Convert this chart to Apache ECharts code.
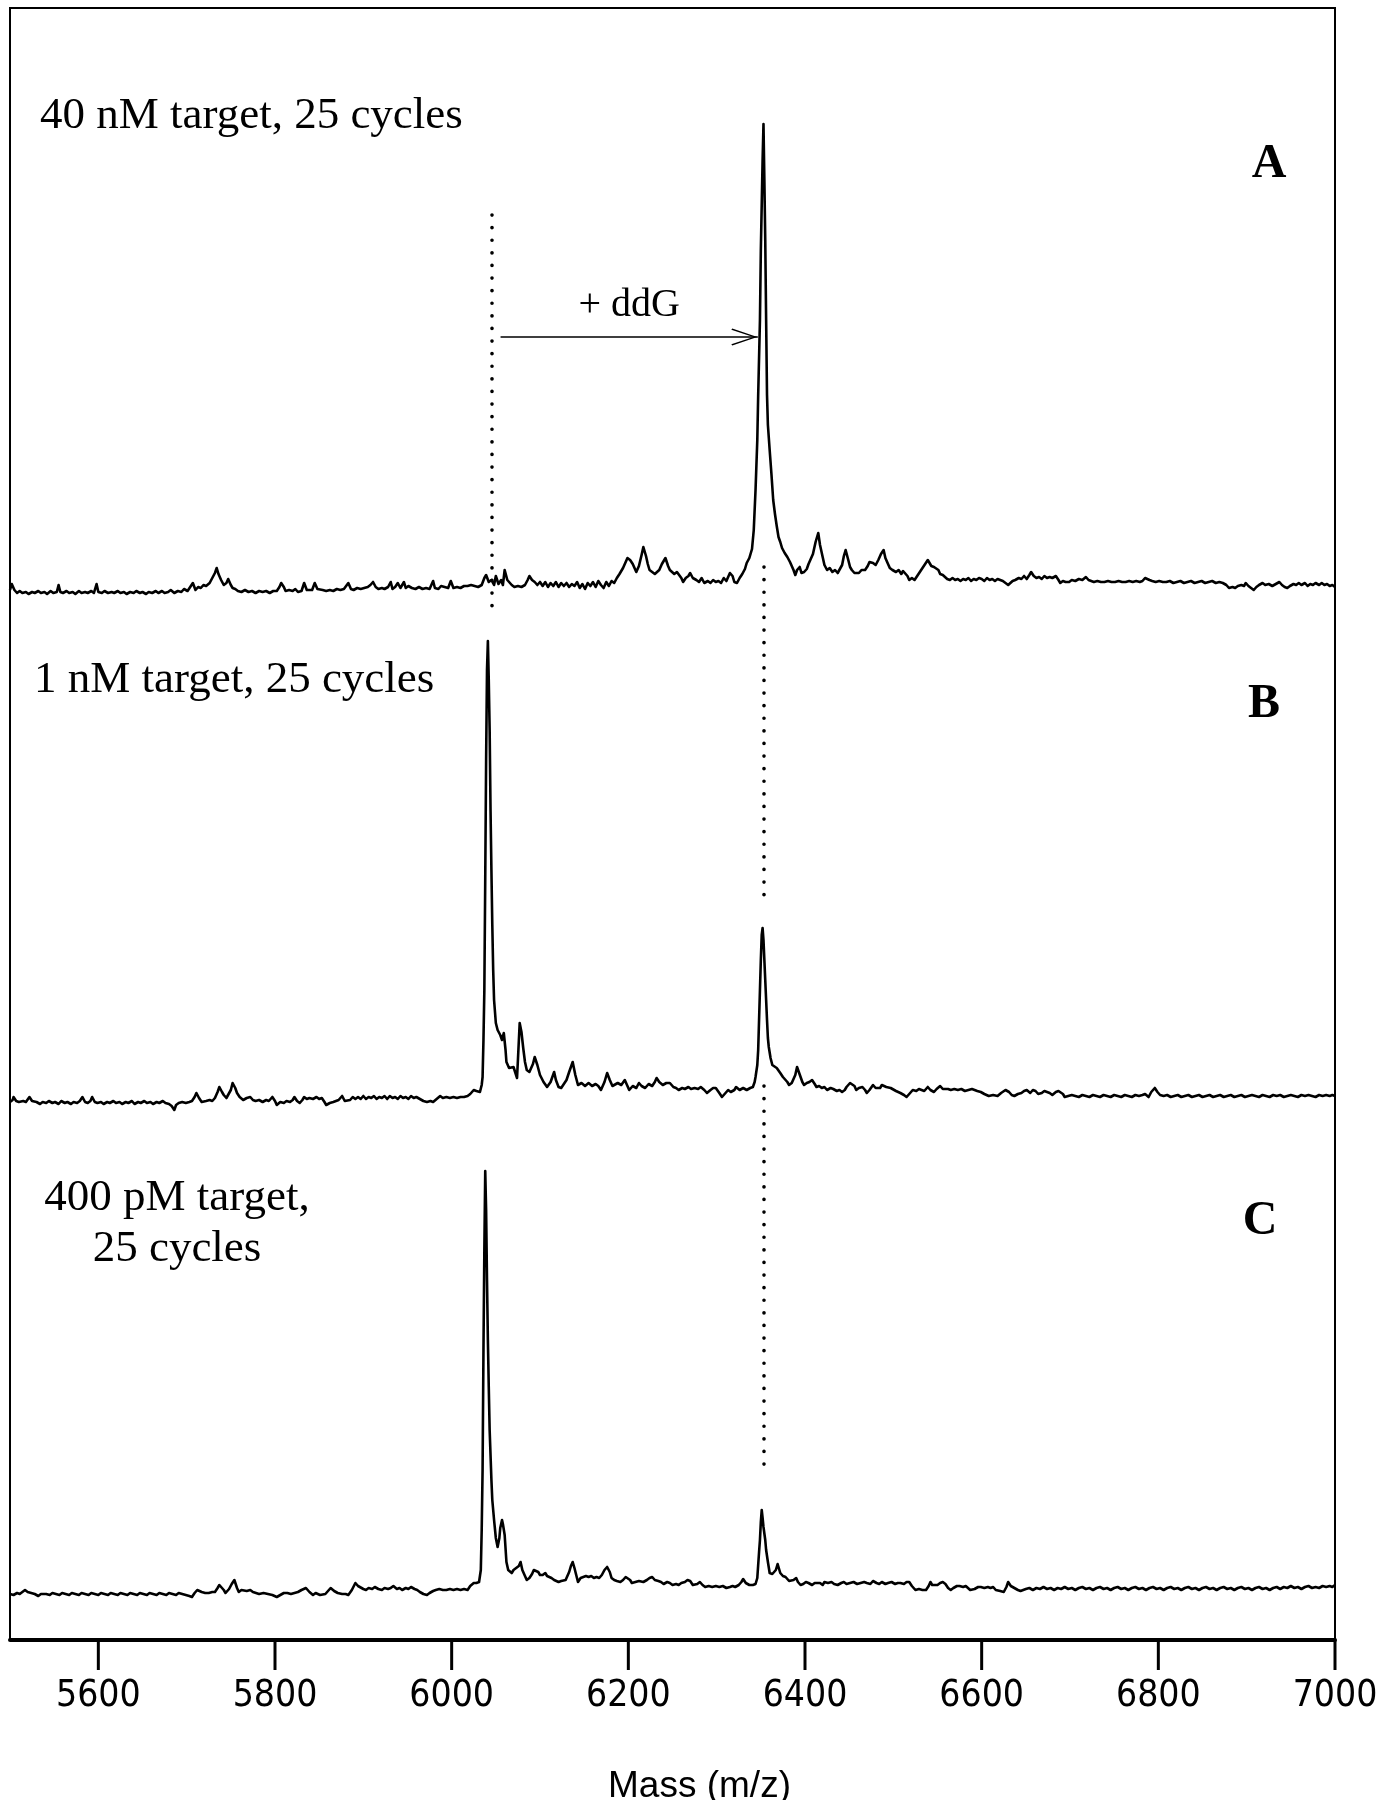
<!DOCTYPE html>
<html>
<head>
<meta charset="utf-8">
<script src="https://cdn.jsdelivr.net/npm/echarts@6/dist/echarts.min.js"></script>
<style>html,body{margin:0;padding:0;background:#fff}#c{width:1393px;height:1800px}</style>
</head>
<body>
<div id="c"></div>
<script>
// ---------- data (mass m/z, intensity a.u.) ----------
const xMin = 5500, xMax = 7000;
const xTickValues = [5600, 5800, 6000, 6200, 6400, 6600, 6800, 7000];
const axisName = 'Mass (m/z)';
const panelTitles = ['40 nM target, 25 cycles', '1 nM target, 25 cycles', '400 pM target,\n25 cycles'];
const panelLetters = ['A', 'B', 'C'];
const arrowLabel = '+ ddG';
const unextendedMass = 6045;   // dotted line (primer)
const extendedMass = 6353;     // dotted line (+ddG product)

const spectrumA = [[5500,10],[5502,16],[5505,10],[5508,7],[5511,9],[5514,7],[5518,8],[5521,6],[5525,8],[5528,7],[5532,9],[5535,7],[5539,8],[5542,6],[5546,9],[5549,7],[5553,8],[5555,15],[5557,8],[5560,7],[5564,9],[5567,7],[5571,8],[5574,6],[5578,9],[5581,7],[5585,8],[5588,7],[5592,9],[5595,7],[5598,16],[5600,8],[5604,7],[5607,9],[5611,7],[5615,8],[5618,7],[5622,9],[5625,7],[5629,8],[5632,6],[5636,8],[5640,7],[5643,9],[5647,7],[5650,8],[5654,6],[5657,8],[5661,7],[5665,9],[5668,7],[5672,9],[5675,7],[5679,8],[5682,10],[5686,7],[5690,9],[5694,8],[5697,11],[5701,9],[5704,13],[5707,17],[5710,10],[5713,13],[5716,12],[5719,15],[5722,14],[5726,17],[5729,22],[5732,27],[5734,32],[5736,26],[5739,20],[5742,15],[5745,17],[5747,21],[5750,15],[5752,12],[5755,11],[5758,9],[5762,8],[5766,10],[5770,8],[5774,9],[5778,7],[5782,9],[5786,8],[5790,9],[5794,7],[5798,9],[5802,9],[5805,13],[5807,17],[5810,13],[5812,9],[5816,10],[5820,9],[5823,11],[5826,8],[5830,9],[5833,17],[5836,10],[5838,9],[5842,10],[5845,17],[5848,11],[5850,9],[5854,10],[5858,9],[5862,10],[5866,9],[5870,11],[5874,10],[5878,11],[5880,9],[5883,17],[5886,11],[5889,10],[5893,12],[5897,11],[5901,12],[5905,13],[5908,15],[5911,18],[5914,13],[5917,11],[5921,12],[5924,11],[5928,13],[5931,18],[5933,11],[5936,13],[5939,17],[5942,12],[5946,18],[5948,12],[5951,14],[5955,12],[5959,11],[5963,13],[5967,11],[5971,12],[5975,11],[5979,19],[5981,12],[5985,11],[5988,14],[5992,13],[5996,12],[5999,19],[6002,12],[6006,13],[6010,12],[6014,14],[6018,14],[6022,15],[6026,14],[6030,13],[6034,15],[6037,22],[6039,25],[6042,18],[6045,20],[6048,15],[6050,24],[6053,16],[6056,20],[6058,15],[6060,30],[6063,20],[6065,18],[6068,15],[6071,13],[6075,14],[6079,13],[6083,15],[6086,20],[6088,24],[6091,20],[6094,18],[6097,15],[6100,18],[6103,14],[6106,18],[6109,13],[6112,17],[6115,14],[6118,18],[6121,13],[6124,17],[6127,14],[6130,17],[6133,13],[6136,16],[6139,14],[6142,18],[6145,12],[6148,16],[6151,11],[6154,17],[6157,14],[6160,18],[6163,13],[6166,19],[6169,15],[6172,12],[6175,18],[6178,14],[6181,19],[6184,17],[6187,22],[6190,26],[6194,32],[6197,38],[6199,42],[6202,40],[6205,36],[6207,38],[6209,28],[6212,34],[6215,45],[6217,53],[6220,44],[6222,36],[6224,30],[6227,28],[6230,26],[6232,25],[6235,30],[6238,36],[6242,42],[6245,34],[6247,30],[6249,28],[6252,26],[6255,28],[6257,30],[6260,22],[6262,18],[6265,22],[6268,24],[6270,27],[6273,22],[6277,20],[6280,18],[6283,22],[6286,17],[6290,19],[6293,17],[6296,20],[6299,18],[6302,19],[6305,17],[6308,22],[6311,19],[6313,20],[6315,27],[6318,24],[6320,18],[6323,17],[6326,22],[6329,26],[6332,31],[6334,37],[6337,42],[6340,51],[6342,70],[6344,110],[6346,160],[6347,205],[6349,280],[6350,350],[6352,440],[6353,476],[6354,420],[6355,360],[6356,280],[6357,205],[6358,175],[6360,150],[6362,126],[6364,100],[6366,86],[6368,74],[6370,63],[6372,58],[6374,52],[6377,47],[6380,43],[6383,38],[6385,34],[6387,30],[6389,25],[6391,30],[6394,33],[6396,27],[6399,28],[6402,31],[6404,36],[6406,40],[6409,46],[6412,58],[6415,67],[6417,55],[6420,43],[6422,35],[6425,30],[6428,32],[6431,28],[6434,30],[6437,27],[6439,27],[6442,35],[6444,44],[6446,50],[6449,40],[6451,33],[6453,30],[6456,27],[6458,29],[6461,27],[6464,30],[6466,32],[6468,30],[6471,34],[6473,38],[6475,40],[6477,37],[6480,35],[6483,40],[6486,46],[6489,50],[6491,42],[6494,36],[6496,32],[6499,30],[6501,28],[6503,28],[6506,30],[6509,26],[6511,29],[6513,28],[6516,24],[6518,20],[6521,22],[6524,20],[6527,24],[6530,28],[6533,32],[6536,36],[6539,40],[6541,37],[6543,34],[6546,33],[6548,31],[6551,30],[6553,26],[6556,25],[6558,23],[6561,21],[6564,20],[6567,22],[6570,20],[6573,21],[6576,19],[6579,21],[6582,20],[6585,22],[6588,19],[6591,21],[6594,20],[6597,22],[6600,21],[6603,19],[6606,22],[6609,20],[6612,21],[6615,19],[6618,21],[6621,20],[6624,19],[6627,17],[6630,15],[6632,15],[6635,19],[6638,20],[6642,22],[6645,21],[6648,24],[6651,21],[6654,25],[6656,28],[6659,24],[6662,22],[6665,23],[6668,21],[6671,24],[6674,22],[6677,23],[6680,22],[6684,24],[6687,20],[6689,17],[6692,19],[6695,18],[6699,18],[6702,20],[6706,19],[6710,21],[6714,20],[6718,23],[6721,20],[6723,18],[6727,18],[6731,19],[6735,18],[6739,18],[6743,19],[6747,18],[6751,18],[6755,19],[6759,18],[6763,18],[6767,19],[6771,18],[6775,19],[6779,18],[6782,19],[6785,22],[6787,24],[6790,20],[6793,19],[6797,18],[6801,19],[6805,18],[6809,18],[6813,19],[6817,17],[6821,18],[6825,19],[6829,17],[6833,18],[6837,19],[6841,17],[6845,18],[6849,19],[6853,17],[6857,18],[6861,19],[6865,17],[6869,18],[6873,17],[6877,15],[6880,12],[6884,13],[6887,12],[6890,14],[6894,15],[6897,14],[6899,17],[6902,14],[6905,12],[6908,10],[6911,13],[6914,15],[6918,17],[6921,15],[6925,16],[6929,14],[6933,16],[6937,18],[6940,15],[6943,13],[6946,12],[6949,14],[6953,16],[6956,15],[6959,17],[6962,15],[6966,17],[6969,14],[6972,16],[6975,15],[6978,17],[6982,15],[6985,17],[6988,15],[6991,16],[6994,14],[6997,15],[7000,13]];

const spectrumB = [[5500,8],[5503,10],[5504,13],[5507,9],[5510,8],[5512,7],[5515,9],[5518,8],[5520,10],[5522,13],[5525,9],[5527,7],[5530,8],[5534,6],[5537,8],[5541,7],[5544,9],[5548,7],[5551,8],[5555,6],[5558,9],[5562,7],[5565,8],[5569,6],[5572,8],[5576,7],[5579,9],[5582,13],[5585,8],[5588,7],[5591,9],[5593,13],[5596,8],[5599,7],[5603,8],[5606,6],[5610,8],[5613,7],[5617,9],[5620,7],[5624,8],[5627,6],[5631,8],[5634,7],[5638,9],[5641,6],[5645,8],[5648,7],[5652,9],[5655,7],[5659,8],[5662,6],[5666,8],[5669,7],[5673,9],[5676,7],[5680,6],[5683,4],[5686,0],[5688,5],[5691,7],[5695,8],[5699,7],[5703,8],[5706,9],[5709,13],[5711,17],[5714,12],[5717,8],[5719,7],[5722,9],[5726,10],[5729,9],[5732,12],[5735,18],[5737,23],[5740,18],[5742,15],[5745,12],[5747,13],[5750,20],[5752,27],[5755,22],[5757,17],[5760,13],[5764,10],[5768,12],[5772,13],[5775,10],[5778,9],[5782,10],[5786,8],[5790,10],[5793,9],[5797,13],[5800,9],[5802,5],[5806,8],[5810,7],[5813,9],[5817,8],[5820,10],[5822,13],[5825,9],[5828,7],[5831,10],[5833,13],[5836,11],[5839,12],[5843,11],[5847,13],[5850,11],[5853,12],[5856,8],[5858,5],[5862,7],[5866,8],[5868,7],[5872,10],[5876,14],[5879,9],[5881,7],[5885,10],[5888,13],[5891,11],[5894,13],[5897,11],[5900,14],[5903,11],[5906,13],[5909,12],[5912,14],[5915,11],[5918,13],[5921,12],[5924,14],[5927,11],[5930,14],[5933,12],[5936,13],[5939,11],[5942,14],[5945,12],[5948,13],[5951,11],[5954,14],[5957,12],[5960,13],[5964,11],[5968,9],[5972,8],[5976,9],[5979,8],[5983,11],[5987,14],[5990,12],[5994,13],[5998,12],[6002,13],[6006,12],[6010,13],[6014,13],[6018,14],[6021,16],[6025,20],[6028,19],[6032,18],[6034,25],[6035,33],[6036,70],[6037,120],[6038,230],[6039,350],[6040,440],[6041,469],[6042,430],[6043,380],[6044,300],[6045,240],[6046,185],[6047,140],[6048,110],[6050,87],[6052,80],[6055,75],[6057,70],[6059,77],[6061,60],[6062,48],[6065,42],[6067,40],[6070,43],[6072,42],[6074,32],[6075,50],[6077,87],[6079,78],[6081,62],[6083,48],[6085,40],[6088,38],[6090,40],[6092,46],[6094,53],[6097,45],[6100,35],[6104,28],[6108,23],[6112,28],[6116,38],[6118,30],[6121,23],[6124,22],[6126,22],[6130,30],[6133,38],[6135,43],[6137,48],[6140,35],[6143,25],[6147,27],[6151,24],[6155,27],[6159,24],[6163,26],[6166,24],[6169,20],[6173,28],[6176,37],[6179,30],[6182,24],[6184,23],[6188,27],[6192,25],[6196,30],[6198,26],[6201,20],[6205,24],[6209,22],[6212,27],[6215,24],[6219,22],[6223,26],[6227,24],[6230,28],[6232,32],[6235,28],[6239,25],[6243,27],[6247,27],[6251,23],[6254,22],[6257,20],[6261,22],[6264,21],[6268,23],[6271,21],[6275,22],[6279,21],[6282,23],[6286,20],[6289,17],[6293,20],[6296,22],[6299,22],[6303,17],[6306,13],[6309,16],[6313,20],[6316,18],[6318,16],[6320,20],[6322,23],[6326,20],[6330,22],[6334,20],[6338,22],[6341,23],[6343,28],[6344,33],[6346,45],[6347,60],[6348,90],[6349,120],[6350,150],[6351,175],[6352,182],[6353,170],[6354,150],[6355,130],[6356,110],[6357,90],[6358,72],[6359,63],[6361,52],[6363,45],[6365,43],[6368,42],[6370,40],[6372,37],[6375,33],[6377,33],[6380,28],[6382,25],[6385,27],[6387,27],[6389,35],[6391,43],[6393,38],[6395,33],[6397,28],[6399,25],[6402,27],[6405,28],[6408,30],[6411,26],[6413,23],[6416,24],[6419,22],[6422,23],[6425,20],[6429,22],[6432,21],[6436,19],[6439,20],[6442,18],[6445,20],[6447,23],[6449,25],[6451,27],[6453,29],[6456,24],[6458,20],[6461,22],[6465,23],[6468,20],[6470,17],[6473,20],[6477,25],[6480,22],[6482,20],[6485,22],[6487,25],[6489,25],[6492,23],[6494,25],[6497,22],[6499,20],[6503,19],[6508,17],[6512,15],[6515,13],[6518,16],[6522,20],[6526,19],[6529,21],[6532,20],[6535,19],[6539,23],[6542,20],[6546,18],[6549,21],[6553,24],[6556,21],[6558,20],[6562,21],[6565,20],[6569,21],[6573,20],[6577,21],[6581,19],[6585,20],[6589,21],[6592,20],[6595,19],[6599,18],[6603,16],[6608,14],[6613,15],[6618,14],[6622,17],[6627,20],[6631,18],[6634,15],[6637,14],[6641,16],[6645,17],[6648,19],[6651,20],[6655,17],[6658,20],[6661,19],[6664,16],[6668,17],[6671,19],[6673,20],[6677,17],[6680,15],[6684,18],[6687,19],[6689,21],[6692,16],[6694,13],[6698,14],[6702,15],[6706,14],[6710,13],[6714,15],[6718,14],[6722,13],[6726,15],[6730,14],[6734,13],[6738,15],[6742,14],[6746,13],[6750,15],[6754,14],[6758,13],[6762,15],[6766,14],[6770,13],[6774,15],[6778,14],[6782,15],[6785,16],[6789,13],[6792,18],[6796,22],[6799,18],[6802,15],[6806,14],[6810,15],[6814,13],[6818,14],[6822,15],[6826,13],[6830,14],[6834,15],[6838,13],[6842,14],[6846,15],[6850,13],[6854,14],[6858,15],[6862,13],[6866,14],[6870,15],[6874,13],[6878,14],[6882,15],[6886,13],[6890,14],[6894,15],[6898,13],[6902,14],[6906,15],[6910,14],[6914,13],[6918,15],[6922,14],[6926,13],[6930,15],[6934,14],[6938,15],[6942,13],[6946,14],[6950,15],[6954,14],[6958,13],[6962,15],[6966,14],[6970,15],[6974,14],[6978,13],[6982,15],[6986,14],[6990,15],[6994,14],[6997,15],[7000,14]];

const spectrumC = [[5500,6],[5504,5],[5508,7],[5511,6],[5514,8],[5517,10],[5520,8],[5524,7],[5528,6],[5532,4],[5535,6],[5537,7],[5541,6],[5545,5],[5548,7],[5552,6],[5556,5],[5559,7],[5563,6],[5567,5],[5570,7],[5574,6],[5578,5],[5581,7],[5585,6],[5589,5],[5592,7],[5596,6],[5600,5],[5603,7],[5607,6],[5611,5],[5614,7],[5618,6],[5622,5],[5625,7],[5629,6],[5633,5],[5636,7],[5640,6],[5644,5],[5647,7],[5651,6],[5655,5],[5658,7],[5662,6],[5666,5],[5669,7],[5673,6],[5677,5],[5680,7],[5684,6],[5688,5],[5691,7],[5695,6],[5699,5],[5703,4],[5706,3],[5709,7],[5712,10],[5714,11],[5717,8],[5721,7],[5725,7],[5729,8],[5732,8],[5735,12],[5737,15],[5739,16],[5742,10],[5744,7],[5748,11],[5751,16],[5754,20],[5757,12],[5759,8],[5762,10],[5764,10],[5768,9],[5772,10],[5775,8],[5777,7],[5782,6],[5787,7],[5792,6],[5797,5],[5802,3],[5806,5],[5810,7],[5814,7],[5818,6],[5822,7],[5826,8],[5830,10],[5835,12],[5839,8],[5843,5],[5846,7],[5848,8],[5851,5],[5853,3],[5857,6],[5860,9],[5863,12],[5867,9],[5871,7],[5876,6],[5880,6],[5883,5],[5887,10],[5891,17],[5894,14],[5896,12],[5900,11],[5903,10],[5906,12],[5910,11],[5913,13],[5917,11],[5921,10],[5924,12],[5928,11],[5931,12],[5934,14],[5938,11],[5941,12],[5944,10],[5948,12],[5951,11],[5954,13],[5958,11],[5961,10],[5964,8],[5968,6],[5972,5],[5975,7],[5979,9],[5982,10],[5986,11],[5990,10],[5994,10],[5998,11],[6002,10],[6006,11],[6010,10],[6014,11],[6018,10],[6021,14],[6025,17],[6028,17],[6031,18],[6033,30],[6034,70],[6035,130],[6036,250],[6037,350],[6038,429],[6039,390],[6040,320],[6041,260],[6042,213],[6043,170],[6045,120],[6046,100],[6048,80],[6050,62],[6052,53],[6054,62],[6055,72],[6057,80],[6058,76],[6060,65],[6062,38],[6064,30],[6065,28],[6068,27],[6070,30],[6073,32],[6076,34],[6078,38],[6080,30],[6083,24],[6085,20],[6088,22],[6091,26],[6093,30],[6095,32],[6098,28],[6100,25],[6103,25],[6106,27],[6108,24],[6110,25],[6113,22],[6116,20],[6118,18],[6121,18],[6124,19],[6126,17],[6129,20],[6131,24],[6133,28],[6135,34],[6137,38],[6139,32],[6141,25],[6143,18],[6146,22],[6149,23],[6152,24],[6155,23],[6158,24],[6161,22],[6164,23],[6167,22],[6170,25],[6173,30],[6176,33],[6179,28],[6181,22],[6184,20],[6187,19],[6191,18],[6194,20],[6197,23],[6199,25],[6202,20],[6204,17],[6208,18],[6212,19],[6217,18],[6221,20],[6224,22],[6227,23],[6230,20],[6234,19],[6237,18],[6240,16],[6244,18],[6247,17],[6250,15],[6254,16],[6257,15],[6260,17],[6264,18],[6267,20],[6270,19],[6273,15],[6275,13],[6278,16],[6281,18],[6284,15],[6287,13],[6291,14],[6295,13],[6299,14],[6303,13],[6307,14],[6311,12],[6315,13],[6318,14],[6321,13],[6325,15],[6328,18],[6330,21],[6333,17],[6337,15],[6341,15],[6344,16],[6346,22],[6347,35],[6348,48],[6349,60],[6350,78],[6351,90],[6352,82],[6353,73],[6355,60],[6356,50],[6358,38],[6360,27],[6363,26],[6365,25],[6367,30],[6369,36],[6371,30],[6372,27],[6375,24],[6378,23],[6380,22],[6382,19],[6384,17],[6387,20],[6390,22],[6392,18],[6395,15],[6398,16],[6401,18],[6404,17],[6408,15],[6411,17],[6413,18],[6417,17],[6420,15],[6422,18],[6426,17],[6430,18],[6433,16],[6437,15],[6441,17],[6444,18],[6447,16],[6451,17],[6455,18],[6459,16],[6463,17],[6467,18],[6470,17],[6474,16],[6477,19],[6481,17],[6484,16],[6487,18],[6491,16],[6494,17],[6498,18],[6502,16],[6505,17],[6508,17],[6512,16],[6515,18],[6518,18],[6521,14],[6525,10],[6529,11],[6533,10],[6537,10],[6540,14],[6542,18],[6544,15],[6546,13],[6550,15],[6553,17],[6556,18],[6559,16],[6562,12],[6565,10],[6568,12],[6572,14],[6575,14],[6579,13],[6582,14],[6584,13],[6587,10],[6589,8],[6592,11],[6596,13],[6599,13],[6603,12],[6607,13],[6610,12],[6613,13],[6616,10],[6618,8],[6621,9],[6625,8],[6628,13],[6630,18],[6633,14],[6637,12],[6641,10],[6644,9],[6646,8],[6650,11],[6654,12],[6658,10],[6662,12],[6666,11],[6670,13],[6674,11],[6678,12],[6682,10],[6686,12],[6690,11],[6694,13],[6698,11],[6702,12],[6706,10],[6710,12],[6714,13],[6718,11],[6722,12],[6726,10],[6730,12],[6734,13],[6738,11],[6742,12],[6746,10],[6750,12],[6754,13],[6758,11],[6762,12],[6766,10],[6770,12],[6774,13],[6778,11],[6782,12],[6786,10],[6790,12],[6794,13],[6798,11],[6802,12],[6806,10],[6810,12],[6814,13],[6818,11],[6822,12],[6826,10],[6830,12],[6834,13],[6838,11],[6842,12],[6846,10],[6850,12],[6854,13],[6858,11],[6862,12],[6866,10],[6870,12],[6874,13],[6878,11],[6882,12],[6886,10],[6890,12],[6894,13],[6898,11],[6902,12],[6906,10],[6910,12],[6914,13],[6918,11],[6922,12],[6926,10],[6930,12],[6934,13],[6938,11],[6942,13],[6946,12],[6950,14],[6954,12],[6958,13],[6962,11],[6966,13],[6970,14],[6974,12],[6978,13],[6982,12],[6986,14],[6990,13],[6994,14],[6997,13],[7000,15]];

// annotation extents in each panel's intensity units
const dottedA = [385, -12];          // primer line in panel A
const dottedUpperB = [543, 208];     // product line between A and B
const dottedLowerC = [514, 130];     // product line between B and C
const arrowA = { from: 6056, to: 6346, level: 263 };

// ---------- chart ----------
const chart = echarts.init(document.getElementById('c'), null, { renderer: 'canvas' });
const serif = "'Liberation Serif', 'Times New Roman', serif";
const sans = "'Liberation Sans Narrow', 'DejaVu Sans Condensed', 'Liberation Sans', Arial, sans-serif";
const dotStyle = { color: '#000', width: 3.6, type: [0.1, 12.5], cap: 'round' };
const gl = 10, gr = 58;

function gridBox(top, height, extra) {
  return Object.assign({ left: gl, right: gr, top: top, height: height,
                         containLabel: false, outerBoundsMode: 'none' }, extra || {});
}
function hiddenX(i) {
  return { type: 'value', gridIndex: i, min: xMin, max: xMax, show: false };
}
function spectrumSeries(i, data, markData) {
  return {
    type: 'line', xAxisIndex: i, yAxisIndex: i, data: data,
    showSymbol: false, symbol: 'none', animation: false, silent: true,
    lineStyle: { color: '#000', width: 2.6, join: 'round' },
    markLine: {
      silent: true, animation: false, symbol: ['none', 'none'],
      label: { show: false },
      lineStyle: dotStyle,
      data: markData
    }
  };
}

const option = {
  backgroundColor: '#fff',
  animation: false,
  grid: [
    gridBox(120, 500),
    gridBox(550, 570),
    gridBox(1080, 530),
    gridBox(8, 1632, { show: true, borderColor: '#000', borderWidth: 2, backgroundColor: 'transparent' }),
    gridBox(1640, 30)
  ],
  xAxis: [
    hiddenX(0), hiddenX(1), hiddenX(2),
    {
      type: 'value', gridIndex: 3, min: xMin, max: xMax,
      splitLine: { show: false },
      axisLine: { show: true, lineStyle: { color: '#000', width: 4 } },
      axisTick: { show: false },
      axisLabel: { show: true, color: '#000', fontSize: 37, fontFamily: sans, margin: 38,
                   customValues: xTickValues, formatter: function (v) { return String(v); } },
      name: axisName, nameLocation: 'middle', nameGap: 128,
      nameTextStyle: { color: '#000', fontSize: 37, padding: [0, 0, 0, 54], fontFamily: "'Liberation Sans', Arial, sans-serif" }
    },
    hiddenX(4)
  ],
  yAxis: [
    { type: 'value', gridIndex: 0, min: -20, max: 480, show: false },
    { type: 'value', gridIndex: 1, min: -10, max: 560, show: false },
    { type: 'value', gridIndex: 2, min: -10, max: 520, show: false },
    { type: 'value', gridIndex: 3, min: 0, max: 1, show: false },
    { type: 'value', gridIndex: 4, min: 0, max: 1, show: false }
  ],
  series: [
    spectrumSeries(0, spectrumA, [
      [{ coord: [unextendedMass, dottedA[0]] }, { coord: [unextendedMass, dottedA[1]] }],
      [{ coord: [arrowA.from, arrowA.level],
         lineStyle: { type: 'solid', width: 1.6, color: '#000' },
         symbol: 'none',
         label: { show: true, formatter: arrowLabel, position: 'insideMiddleTop', distance: 12,
                  color: '#000', fontSize: 40, fontFamily: serif } },
       { coord: [arrowA.to, arrowA.level],
         symbol: 'path://M0,20 L10,0 L20,20 L18.6,20.8 L10,3.2 L1.4,20.8 Z',
         symbolSize: [17, 26], symbolOffset: [0, 13] }]
    ]),
    spectrumSeries(1, spectrumB, [
      [{ coord: [extendedMass, dottedUpperB[0]] }, { coord: [extendedMass, dottedUpperB[1]] }]
    ]),
    spectrumSeries(2, spectrumC, [
      [{ coord: [extendedMass, dottedLowerC[0]] }, { coord: [extendedMass, dottedLowerC[1]] }]
    ]),
    // x-axis tick marks (long, outward) at the tick values
    {
      type: 'scatter', xAxisIndex: 4, yAxisIndex: 4, silent: true, animation: false, clip: false,
      data: xTickValues.map(function (v) { return [v, 0.5]; }),
      symbol: 'rect', symbolSize: [3, 30],
      itemStyle: { color: '#000', opacity: 1 }
    }
  ],
  graphic: [
    { type: 'text', x: 40, y: 116, silent: true,
      style: { text: panelTitles[0], fontSize: 45, fontFamily: serif, fill: '#000', textAlign: 'left', textVerticalAlign: 'middle' } },
    { type: 'text', x: 34, y: 680, silent: true,
      style: { text: panelTitles[1], fontSize: 45, fontFamily: serif, fill: '#000', textAlign: 'left', textVerticalAlign: 'middle' } },
    { type: 'text', x: 177, y: 1224, silent: true,
      style: { text: panelTitles[2], fontSize: 45, lineHeight: 51, fontFamily: serif, fill: '#000', textAlign: 'center', textVerticalAlign: 'middle' } },
    { type: 'text', x: 1269, y: 165, silent: true,
      style: { text: panelLetters[0], fontSize: 48, fontWeight: 'bold', fontFamily: serif, fill: '#000', textAlign: 'center', textVerticalAlign: 'middle' } },
    { type: 'text', x: 1264, y: 705, silent: true,
      style: { text: panelLetters[1], fontSize: 48, fontWeight: 'bold', fontFamily: serif, fill: '#000', textAlign: 'center', textVerticalAlign: 'middle' } },
    { type: 'text', x: 1260, y: 1222, silent: true,
      style: { text: panelLetters[2], fontSize: 48, fontWeight: 'bold', fontFamily: serif, fill: '#000', textAlign: 'center', textVerticalAlign: 'middle' } }
  ]
};
chart.setOption(option);
</script>
</body>
</html>
